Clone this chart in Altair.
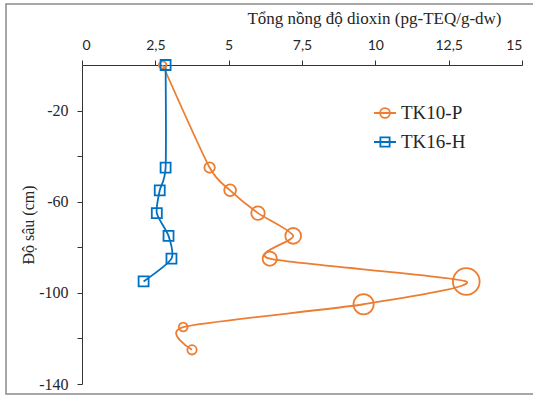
import altair as alt
import pandas as pd

# ---- data ----
series_names = ["TK10-P", "TK16-H"]
depth_tk10 = [0, -45, -55, -65, -75, -85, -95, -105, -115, -125]
value_tk10 = [2.75, 4.35, 5.05, 6.0, 7.2, 6.4, 13.1, 9.6, 3.45, 3.75]
depth_tk16 = [0, -45, -55, -65, -75, -85, -95]
value_tk16 = [2.85, 2.85, 2.65, 2.55, 2.95, 3.05, 2.1]
x_ticks = [0, 2.5, 5, 7.5, 10, 12.5, 15]
y_ticks = [-20, -40, -60, -80, -100, -120, -140]

colors = ["#ED7D31", "#0070C0"]

rows = []
for i, (d, v) in enumerate(zip(depth_tk10, value_tk10)):
    rows.append({"series": series_names[0], "depth": d, "value": v, "idx": i})
for i, (d, v) in enumerate(zip(depth_tk16, value_tk16)):
    rows.append({"series": series_names[1], "depth": d, "value": v, "idx": i})
df = pd.DataFrame(rows)

W, H = 440, 319
PAD_L, PAD_T = 82, 65

serif = "Liberation Serif"
sans = "Lato"
txt = "#262626"

color_scale = alt.Scale(domain=series_names, range=colors)

circ_path = "M-1,0H1M0.45,0A0.45,0.45,0,1,1,-0.45,0A0.45,0.45,0,1,1,0.45,0"
sq_path = "M-1,0H1M-0.42,-0.42H0.42V0.42H-0.42Z"

legend_kw = dict(
    orient="none",
    legendX=291,
    legendY=36,
    title=None,
    padding=0,
    symbolSize=484,
    symbolStrokeWidth=1.8,
    symbolFillColor="transparent",
    labelFont=serif,
    labelFontSize=19,
    labelColor=txt,
    labelOffset=4,
    rowPadding=7,
)
leg = alt.Legend(**legend_kw)

x_enc = alt.X(
    "value:Q",
    scale=alt.Scale(domain=[0, 15], nice=False),
    axis=alt.Axis(
        orient="top",
        values=x_ticks,
        title="Tổng nồng độ dioxin (pg-TEQ/g-dw)",
        titleFont=serif,
        titleFontSize=17,
        titleFontWeight="normal",
        titleColor=txt,
        titleX=292,
        titleY=-47,
        titleBaseline="middle",
        titleAlign="center",
        labelFont=sans,
        labelFontSize=14,
        labelColor=txt,
        labelPadding=8,
        labelExpr="replace(format(datum.value, '~g'), '.', ',')",
        tickSize=5,
        tickColor="#333",
        domainColor="#333",
        grid=False,
    ),
)
y_enc = alt.Y(
    "depth:Q",
    scale=alt.Scale(domain=[-140, 0], nice=False),
    axis=alt.Axis(
        values=y_ticks,
        title="Độ sâu (cm)",
        titleFont=serif,
        titleFontSize=16,
        titleFontWeight="normal",
        titleColor=txt,
        titleX=-54,
        titleY=H / 2,
        titleBaseline="middle",
        titleAlign="center",
        labelFont=serif,
        labelFontSize=16,
        labelColor=txt,
        labelPadding=9,
        labelExpr="abs(datum.value) % 40 == 20 ? '-' + abs(datum.value) : ''",
        tickSize=5,
        tickColor="#333",
        domainColor="#333",
        grid=False,
    ),
)

base = alt.Chart(df)

frame = alt.Chart(pd.DataFrame({"a": [0]})).mark_rect(
    fill=None, stroke="#8a8a8a", strokeWidth=1.5
).encode(
    x=alt.value(6 - PAD_L),
    x2=alt.value(560 - PAD_L),
    y=alt.value(4 - PAD_T),
    y2=alt.value(394 - PAD_T),
)

lines = base.mark_line(interpolate="cardinal", tension=0.3, strokeWidth=1.8).encode(
    x=x_enc,
    y=y_enc,
    color=alt.Color("series:N", scale=color_scale, legend=leg),
    order=alt.Order("idx:Q"),
)

circles = base.transform_filter(
    alt.datum.series == series_names[0]
).transform_calculate(
    msize="PI * pow(5 + (datum.value - 3.5) * 1.05, 2)"
).mark_point(shape="circle", filled=False, strokeWidth=1.8, opacity=1).encode(
    x=alt.X("value:Q"),
    y=alt.Y("depth:Q"),
    color=alt.Color("series:N", scale=color_scale, legend=leg),
    size=alt.Size("msize:Q", scale=None),
)

squares = base.transform_filter(
    alt.datum.series == series_names[1]
).mark_point(shape="square", filled=False, strokeWidth=1.8, opacity=1, size=100).encode(
    x=alt.X("value:Q"),
    y=alt.Y("depth:Q"),
    color=alt.Color("series:N", scale=color_scale, legend=leg),
)

legend_layer = base.transform_filter("false").mark_point(
    filled=False, strokeWidth=1.8
).encode(
    color=alt.Color("series:N", scale=color_scale, legend=leg),
    shape=alt.Shape(
        "series:N",
        scale=alt.Scale(domain=series_names, range=[circ_path, sq_path]),
        legend=leg,
    ),
)

chart = (
    alt.layer(frame, lines, circles, squares, legend_layer)
    .properties(
        width=W,
        height=H,
        autosize=alt.AutoSizeParams(type="none"),
        padding={"left": PAD_L, "top": PAD_T, "right": 533 - PAD_L - W, "bottom": 395 - PAD_T - H},
        background="white",
    )
    .configure_view(stroke=None)
)

chart.save("out.html", embed_options={"renderer": "svg", "actions": False})
